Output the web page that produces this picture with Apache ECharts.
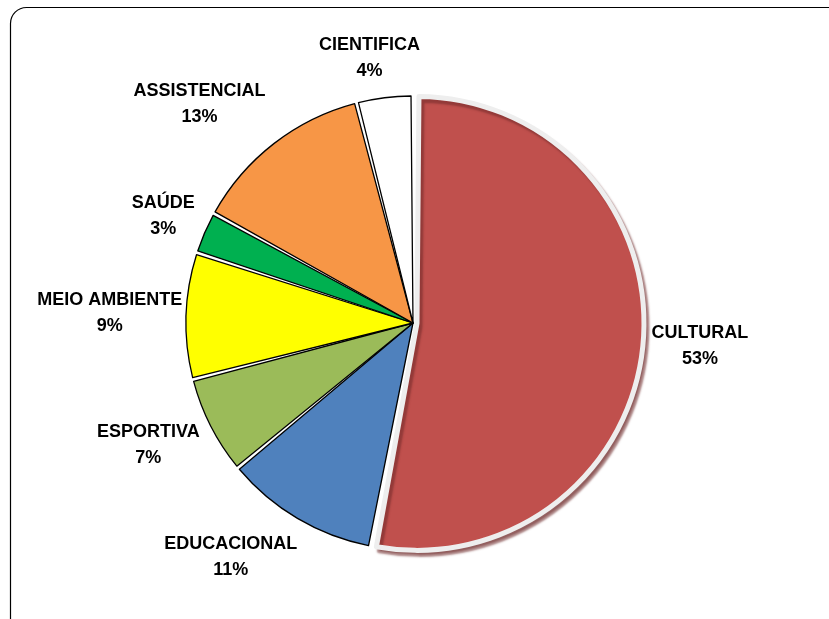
<!DOCTYPE html>
<html>
<head>
<meta charset="utf-8">
<script src="https://cdn.jsdelivr.net/npm/echarts@6/dist/echarts.min.js"></script>
<style>
  html, body { margin: 0; padding: 0; background: #fff; }
  #chart { width: 829px; height: 619px; }
</style>
</head>
<body>
<div id="chart"></div>
<script>
// categorias e percentuais
const categorias = ["CULTURAL", "EDUCACIONAL", "ESPORTIVA", "MEIO AMBIENTE", "SAÚDE", "ASSISTENCIAL", "CIENTIFICA"];
const valores = [53, 11, 7, 9, 3, 13, 4];
const cores = ["#c0504d", "#4f81bd", "#9bbb59", "#ffff00", "#00b050", "#f79646", "#ffffff"];

const centro = [413, 323];
const raio = 227;
// pequenos ajustes manuais na posição dos rótulos (px)
const ajustes = [[20, -7], [-34, -17], [-4, -11], [5, 0], [2, 2], [-32, 15], [-10, 0]];

const chart = echarts.init(document.getElementById("chart"));

const total = valores.reduce(function (a, b) { return a + b; }, 0);
// ângulo médio de cada fatia (a partir do topo, sentido horário)
const angulos = [];
let acum = 0;
valores.forEach(function (v) {
  angulos.push((acum + v / 2) / total * Math.PI * 2);
  acum += v;
});

const dados = categorias.map(function (nome, i) {
  const item = {
    name: nome,
    value: valores[i],
    itemStyle: {
      color: cores[i],
      borderColor: "#000",
      borderWidth: 1.3
    }
  };
  if (i === 0) {
    item.selected = true;
    item.itemStyle = {
      color: cores[i],
      borderColor: "#eeeeee",
      borderWidth: 5,
      shadowColor: "rgba(110,40,40,0.55)",
      shadowOffsetX: 3,
      shadowOffsetY: 4,
      shadowBlur: 2
    };
    // o rótulo da fatia destacada ignora o labelLayout; empurra com padding
    item.label = { padding: [0, 0, 0, 14] };
  }
  return item;
});

const option = {
  backgroundColor: "#fff",
  animation: false,
  graphic: [{
    type: "rect",
    shape: { x: 10.5, y: 7.5, width: 860, height: 660, r: 16 },
    style: { fill: "none", stroke: "#000", lineWidth: 1.2 },
    silent: true
  }],
  series: [{
    type: "pie",
    center: centro,
    radius: [0, raio],
    startAngle: 90,
    clockwise: true,
    padAngle: 1,
    avoidLabelOverlap: false,
    selectedMode: "single",
    selectedOffset: 4,
    data: dados,
    label: {
      show: true,
      position: "outside",
      formatter: "{b}\n{c}%",
      fontFamily: "Liberation Sans",
      fontWeight: "bold",
      fontSize: 18,
      lineHeight: 26,
      color: "#000",
      overflow: "none"
    },
    labelLine: { show: false },
    labelLayout: function (p) {
      const i = p.dataIndex;
      const a = angulos[i];
      const s = Math.sin(a), c = Math.cos(a);
      const w = p.labelRect.width, h = p.labelRect.height;
      const d = raio + 8 + w / 2 * Math.abs(s) + h / 2 * Math.abs(c);
      return {
        x: centro[0] + d * s + ajustes[i][0],
        y: centro[1] - d * c + ajustes[i][1],
        align: "center",
        verticalAlign: "middle"
      };
    },
    emphasis: { disabled: true }
  }]
};

chart.setOption(option);
</script>
</body>
</html>
